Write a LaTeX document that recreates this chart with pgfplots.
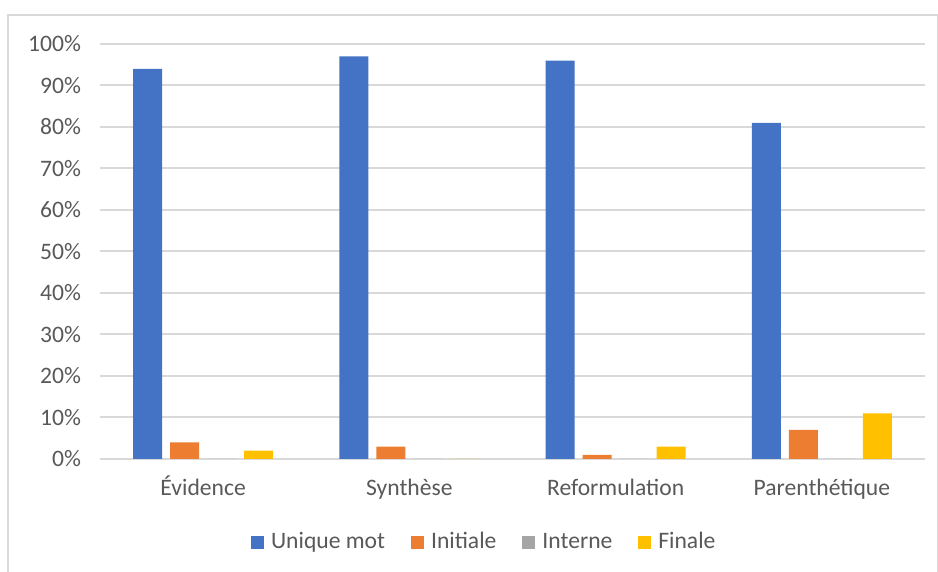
\documentclass[border=0pt]{standalone}
\usepackage{fontspec}
\setmainfont{Carlito}
\usepackage{pgfplots}
\pgfplotsset{compat=1.18}
\definecolor{cblue}{HTML}{4472C4}
\definecolor{corange}{HTML}{ED7D31}
\definecolor{cgray}{HTML}{A5A5A5}
\definecolor{cgold}{HTML}{FFC000}
\definecolor{gridc}{HTML}{D9D9D9}
\definecolor{txt}{HTML}{595959}
\begin{document}
\begin{tikzpicture}
\useasboundingbox (0pt,0pt) rectangle (469pt,286pt);
\draw[gridc, line width=0.6pt] (4pt,-5pt) rectangle (468.6pt,278.5pt);
\begin{axis}[
  at={(50pt,56.5pt)}, anchor=south west,
  width=412.5pt, height=207.5pt, scale only axis,
  ybar=4pt, bar width=14.5pt,
  xmin=-0.5, xmax=3.5, ymin=0, ymax=100,
  xtick={0,1,2,3},
  xticklabels={Évidence, Synthèse, Reformulation, Parenthétique},
  ytick={0,10,...,100},
  yticklabel={\pgfmathprintnumber{\tick}\%},
  /pgf/number format/assume math mode=true,
  axis line style={draw=none},
  major tick length=0pt,
  ymajorgrids, xmajorgrids=false,
  major grid style={draw=gridc, line width=1pt},
  tick label style={font=\fontsize{11.8pt}{14pt}\selectfont, text=txt},
  yticklabel style={xshift=-6pt},
  xticklabel style={yshift=-6pt, text height=8.5pt, text depth=2.5pt},
  legend columns=4,
  legend style={draw=none, at={(0.467,-0.202)}, anchor=center,
    font=\fontsize{11.8pt}{14pt}\selectfont, text=txt,
    nodes={text height=8.5pt, text depth=2.5pt},
    /tikz/every odd column/.append style={column sep=1.5pt},
    /tikz/every even column/.append style={column sep=11pt}},
  legend image code/.code={\fill[#1] (0pt,-3.25pt) rectangle (6.5pt,3.25pt);},
  clip=false,
]
\addplot[fill=cblue, draw=none] coordinates {(0,94) (1,97) (2,96) (3,81)};
\addplot[fill=corange, draw=none] coordinates {(0,4) (1,3) (2,1) (3,7)};
\addplot[fill=cgray, draw=none] coordinates {(0,0) (1,0) (2,0) (3,0)};
\addplot[fill=cgold, draw=none] coordinates {(0,2) (1,0) (2,3) (3,11)};
\legend{Unique mot, Initiale, Interne, Finale}
\end{axis}
\end{tikzpicture}
\end{document}
